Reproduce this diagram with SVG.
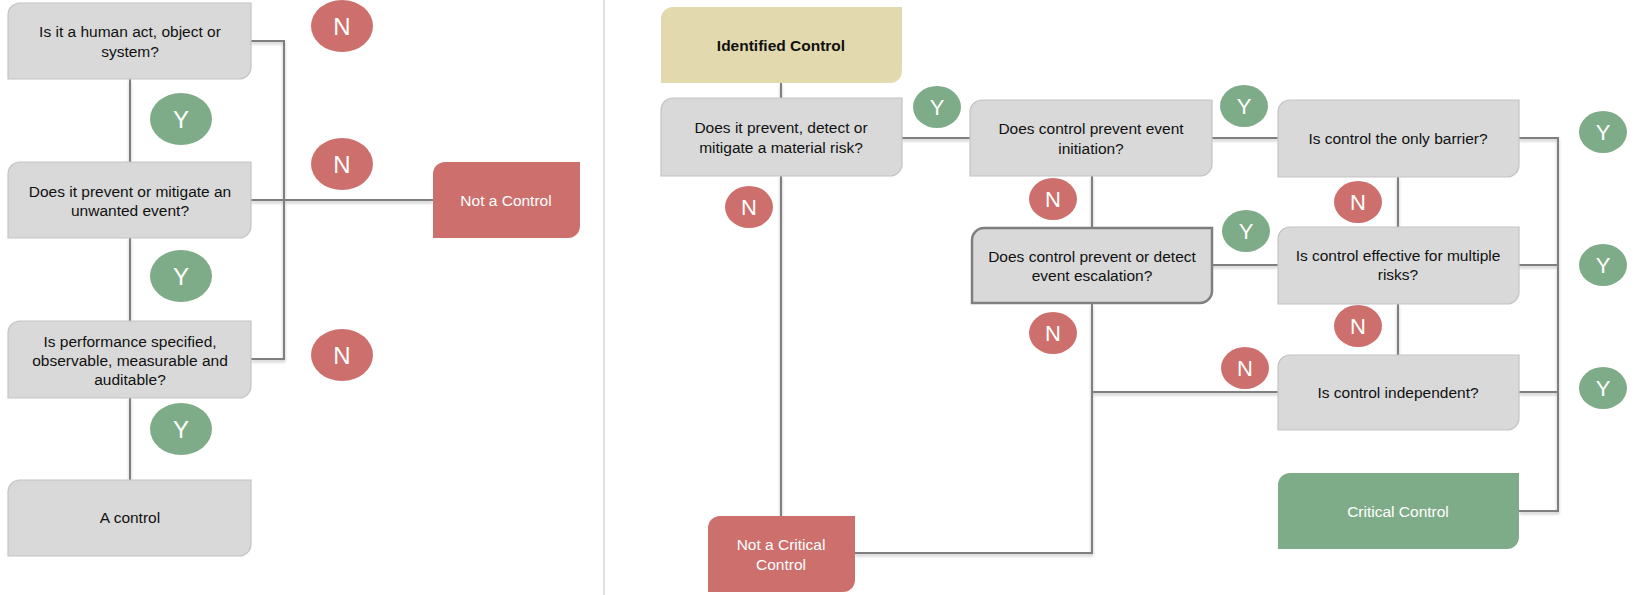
<svg xmlns="http://www.w3.org/2000/svg" width="1635" height="595" viewBox="0 0 1635 595">
<defs>
<style>
.box{fill:#D9D9D9;stroke:#C3C3C3;stroke-width:1.2}
.esc{fill:#D9D9D9;stroke:#7F7F7F;stroke-width:2.5}
.red{fill:#CD6F6D}
.grn{fill:#7FAC88}
.tan{fill:#E2D9AE}
.t{font-family:"Liberation Sans",Arial,sans-serif;font-size:15.5px;fill:#111;text-anchor:middle}
.tw{font-family:"Liberation Sans",Arial,sans-serif;font-size:15.5px;fill:#fff;text-anchor:middle}
.tb{font-family:"Liberation Sans",Arial,sans-serif;font-size:15.5px;font-weight:bold;fill:#111;text-anchor:middle}
.c{font-family:"Liberation Sans",Arial,sans-serif;font-size:24px;fill:#fff;text-anchor:middle}
.cs{font-family:"Liberation Sans",Arial,sans-serif;font-size:22px;fill:#fff;text-anchor:middle}
.ln{fill:none;stroke:#7F7F7F;stroke-width:2}
</style>
<filter id="sh" x="-5%" y="-5%" width="110%" height="120%">
<feDropShadow dx="0" dy="2" stdDeviation="1.5" flood-color="#000" flood-opacity="0.25"/>
</filter>
</defs>
<rect width="1635" height="595" fill="#fff"/>
<line x1="604" y1="0" x2="604" y2="595" stroke="#D6D6D6" stroke-width="1.5"/>

<g id="connectors" class="ln" filter="url(#sh)">
<path d="M130,79 V162 M130,238 V321 M130,398 V480"/>
<path d="M251,41 H284 V359 H251"/>
<path d="M251,200 H433"/>
<path d="M781,83 V98"/>
<path d="M902,138 H970"/>
<path d="M1212,138 H1278"/>
<path d="M1519,138 H1558 V511 H1519"/>
<path d="M781,176 V516"/>
<path d="M1092,176 V228"/>
<path d="M1212,265 H1278"/>
<path d="M1519,265 H1558"/>
<path d="M1398,177 V227"/>
<path d="M1398,304 V355"/>
<path d="M1092,304 V553 H855"/>
<path d="M1092,392 H1278"/>
<path d="M1519,392 H1558"/>
</g>

<g id="q1">
<path class="box" d="M20,3 H251 V67 A12,12 0 0 1 239,79 H8 V15 A12,12 0 0 1 20,3 Z"/>
<text class="t" x="130" y="37">Is it a human  act, object or</text>
<text class="t" x="130" y="57">system?</text>
</g>
<g id="q2">
<path class="box" d="M20,162 H251 V226 A12,12 0 0 1 239,238 H8 V174 A12,12 0 0 1 20,162 Z"/>
<text class="t" x="130" y="197">Does it prevent or mitigate  an</text>
<text class="t" x="130" y="216">unwanted  event?</text>
</g>
<g id="q3">
<path class="box" d="M20,321 H251 V386 A12,12 0 0 1 239,398 H8 V333 A12,12 0 0 1 20,321 Z"/>
<text class="t" x="130" y="347">Is performance specified,</text>
<text class="t" x="130" y="366">observable,  measurable  and</text>
<text class="t" x="130" y="385">auditable?</text>
</g>
<g id="acontrol">
<path class="box" d="M20,480 H251 V544 A12,12 0 0 1 239,556 H8 V492 A12,12 0 0 1 20,480 Z"/>
<text class="t" x="130" y="523">A control</text>
</g>
<g id="notacontrol">
<path class="red" d="M445,162 H580 V226 A12,12 0 0 1 568,238 H433 V174 A12,12 0 0 1 445,162 Z"/>
<text class="tw" x="506" y="206">Not  a Control</text>
</g>

<g id="left-labels">
<ellipse class="grn" cx="181" cy="119" rx="31" ry="26"/><text class="c" x="181" y="128">Y</text>
<ellipse class="grn" cx="181" cy="276" rx="31" ry="26"/><text class="c" x="181" y="285">Y</text>
<ellipse class="grn" cx="181" cy="429" rx="31" ry="26"/><text class="c" x="181" y="438">Y</text>
<ellipse class="red" cx="342" cy="26" rx="31" ry="26"/><text class="c" x="342" y="35">N</text>
<ellipse class="red" cx="342" cy="164" rx="31" ry="26"/><text class="c" x="342" y="173">N</text>
<ellipse class="red" cx="342" cy="355" rx="31" ry="26"/><text class="c" x="342" y="364">N</text>
</g>

<g id="identified">
<path class="tan" d="M673,7 H902 V71 A12,12 0 0 1 890,83 H661 V19 A12,12 0 0 1 673,7 Z"/>
<text class="tb" x="781" y="51">Identified  Control</text>
</g>
<g id="material">
<path class="box" d="M673,98 H902 V164 A12,12 0 0 1 890,176 H661 V110 A12,12 0 0 1 673,98 Z"/>
<text class="t" x="781" y="133">Does it prevent, detect or</text>
<text class="t" x="781" y="153">mitigate  a material risk?</text>
</g>
<g id="initiation">
<path class="box" d="M982,100 H1212 V164 A12,12 0 0 1 1200,176 H970 V112 A12,12 0 0 1 982,100 Z"/>
<text class="t" x="1091" y="134">Does  control prevent  event</text>
<text class="t" x="1091" y="154">initiation?</text>
</g>
<g id="escalation">
<path class="esc" d="M984,228 H1212 V291 A12,12 0 0 1 1200,303 H972 V240 A12,12 0 0 1 984,228 Z"/>
<text class="t" x="1092" y="262">Does  control prevent  or detect</text>
<text class="t" x="1092" y="281">event  escalation?</text>
</g>
<g id="barrier">
<path class="box" d="M1290,100 H1519 V165 A12,12 0 0 1 1507,177 H1278 V112 A12,12 0 0 1 1290,100 Z"/>
<text class="t" x="1398" y="144">Is control the  only barrier?</text>
</g>
<g id="multiple">
<path class="box" d="M1290,227 H1519 V292 A12,12 0 0 1 1507,304 H1278 V239 A12,12 0 0 1 1290,227 Z"/>
<text class="t" x="1398" y="261">Is control effective  for multiple</text>
<text class="t" x="1398" y="280">risks?</text>
</g>
<g id="independent">
<path class="box" d="M1290,355 H1519 V418 A12,12 0 0 1 1507,430 H1278 V367 A12,12 0 0 1 1290,355 Z"/>
<text class="t" x="1398" y="398">Is control independent?</text>
</g>
<g id="critical">
<path class="grn" d="M1290,473 H1519 V537 A12,12 0 0 1 1507,549 H1278 V485 A12,12 0 0 1 1290,473 Z"/>
<text class="tw" x="1398" y="517">Critical Control</text>
</g>
<g id="notcritical">
<path class="red" d="M720,516 H855 V580 A12,12 0 0 1 843,592 H708 V528 A12,12 0 0 1 720,516 Z"/>
<text class="tw" x="781" y="550">Not a Critical</text>
<text class="tw" x="781" y="570">Control</text>
</g>

<g id="right-labels">
<ellipse class="grn" cx="937" cy="107" rx="24" ry="21"/><text class="cs" x="937" y="115">Y</text>
<ellipse class="grn" cx="1244" cy="106" rx="24" ry="21"/><text class="cs" x="1244" y="114">Y</text>
<ellipse class="grn" cx="1246" cy="231" rx="24" ry="21"/><text class="cs" x="1246" y="239">Y</text>
<ellipse class="grn" cx="1603" cy="132" rx="24" ry="21"/><text class="cs" x="1603" y="140">Y</text>
<ellipse class="grn" cx="1603" cy="265" rx="24" ry="21"/><text class="cs" x="1603" y="273">Y</text>
<ellipse class="grn" cx="1603" cy="388" rx="24" ry="21"/><text class="cs" x="1603" y="396">Y</text>
<ellipse class="red" cx="749" cy="207" rx="24" ry="21"/><text class="cs" x="749" y="215">N</text>
<ellipse class="red" cx="1053" cy="199" rx="24" ry="21"/><text class="cs" x="1053" y="207">N</text>
<ellipse class="red" cx="1053" cy="333" rx="24" ry="21"/><text class="cs" x="1053" y="341">N</text>
<ellipse class="red" cx="1358" cy="202" rx="24" ry="21"/><text class="cs" x="1358" y="210">N</text>
<ellipse class="red" cx="1358" cy="326" rx="24" ry="21"/><text class="cs" x="1358" y="334">N</text>
<ellipse class="red" cx="1245" cy="368" rx="24" ry="21"/><text class="cs" x="1245" y="376">N</text>
</g>
</svg>
